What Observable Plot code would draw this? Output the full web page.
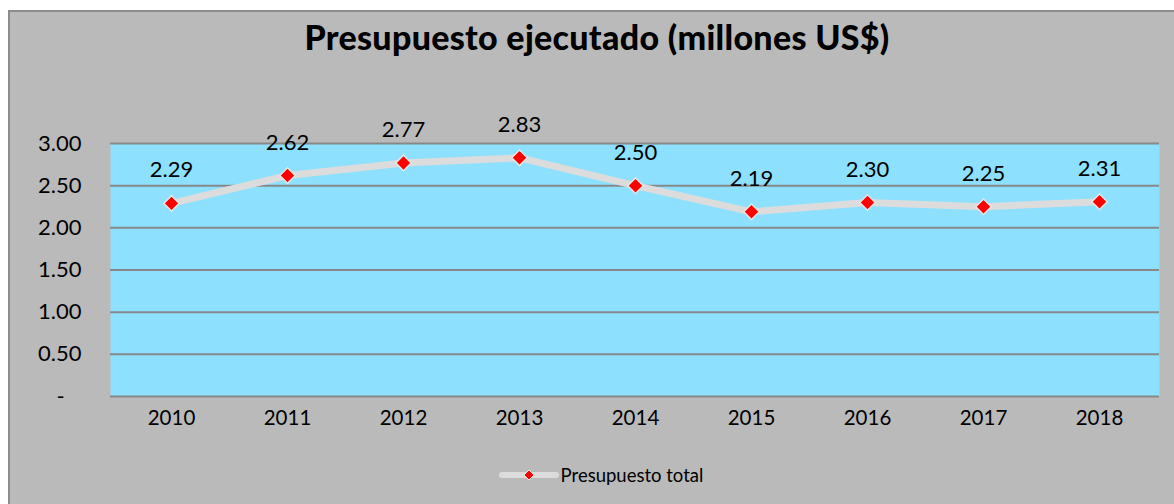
<!DOCTYPE html>
<html>
<head>
<meta charset="utf-8">
<script src="https://cdn.jsdelivr.net/npm/d3@7"></script>
<script src="https://cdn.jsdelivr.net/npm/@observablehq/plot@0.6"></script>
<style>
  html, body { margin: 0; padding: 0; background: #ffffff; width: 1174px; height: 504px; overflow: hidden; }
  #box {
    position: absolute; left: 8px; top: 10px; width: 1170px; height: 500px;
    background: #bababa; border-top: 2px solid #8c8c8c; border-left: 2px solid #8c8c8c;
    font-family: Lato, "DejaVu Sans", sans-serif; color: #000;
  }
  #title { height: 60px; line-height: 50px; width: 1154px; padding-left: 10px; text-align: center; font-weight: 900; font-size: 34px; letter-spacing: 0.3px; }
  #legend { width: 1146px; padding-left: 18px; height: 40px; display: flex; justify-content: center; align-items: center; font-size: 18.5px; margin-top: 15px; }
  #legend svg { display: block; margin-right: 2px; }
</style>
</head>
<body>
<div id="box">
  <div id="title">Presupuesto ejecutado (millones US$)</div>
  <div id="chart"></div>
  <div id="legend"></div>
</div>
<script>
const years = ["2010", "2011", "2012", "2013", "2014", "2015", "2016", "2017", "2018"];
const budget = [2.29, 2.62, 2.77, 2.83, 2.50, 2.19, 2.30, 2.25, 2.31];
const yTicks = [0, 0.5, 1.0, 1.5, 2.0, 2.5, 3.0];
const seriesName = "Presupuesto total";

const data = years.map((y, i) => ({year: y, value: budget[i]}));

const plot = Plot.plot({
  width: 1164,
  height: 368,
  marginLeft: 100,
  marginRight: 15,
  marginTop: 71,
  marginBottom: 44,
  style: {fontFamily: "Lato, 'DejaVu Sans', sans-serif", fontSize: "22px", color: "#000", background: "transparent", overflow: "visible"},
  x: {type: "point", domain: years, padding: 0.5, label: null},
  y: {domain: [0, 3], label: null},
  marks: [
    Plot.frame({fill: "#8de0fe", stroke: null}),
    Plot.ruleY(yTicks, {stroke: "#888888", strokeWidth: 2}),
    Plot.axisY({ticks: yTicks, tickSize: 0, tickPadding: 29, label: null,
      tickFormat: d => d === 0 ? "-\u00a0\u00a0\u00a0" : d.toFixed(2), fontSize: 22, fill: "#000"}),
    Plot.axisX({tickSize: 0, tickPadding: 14, label: null, fontSize: 20.5, fill: "#000"}),
    Plot.line(data, {x: "year", y: "value", stroke: "#dcdcdc", strokeWidth: 7, strokeLinejoin: "round", strokeLinecap: "round"}),
    Plot.dot(data, {x: "year", y: "value", symbol: "diamond2", r: 7, fill: "#ff0000", stroke: "#e6e6e6", strokeWidth: 1.5}),
    Plot.text(data, {x: "year", y: "value", text: d => d.value.toFixed(2), dy: -33, fontSize: 22, fill: "#000"})
  ]
});
document.getElementById("chart").appendChild(plot);

// legend
const legend = document.getElementById("legend");
const ns = "http://www.w3.org/2000/svg";
const ls = document.createElementNS(ns, "svg");
ls.setAttribute("width", 60); ls.setAttribute("height", 16);
ls.innerHTML = `<line x1="3" y1="8" x2="57" y2="8" stroke="#dcdcdc" stroke-width="6" stroke-linecap="round"/>
  <path d="M30,3 L35,8 L30,13 L25,8 Z" fill="#ff0000" stroke="#e6e6e6" stroke-width="1"/>`;
legend.appendChild(ls);
const lt = document.createElement("span");
lt.textContent = seriesName;
legend.appendChild(lt);
</script>
</body>
</html>
